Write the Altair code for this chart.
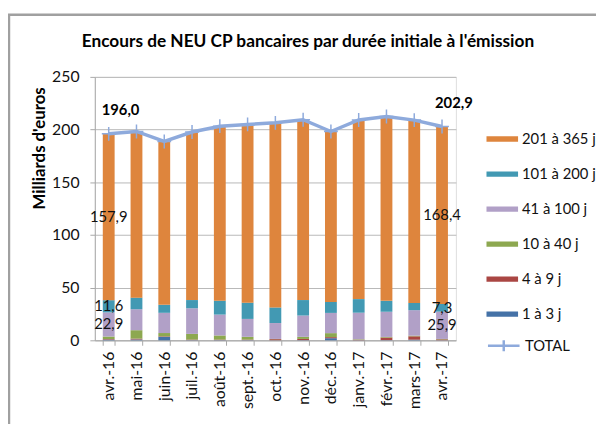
import altair as alt
import pandas as pd

months = ["avr.-16", "mai-16", "juin-16", "juil.-16", "août-16", "sept.-16", "oct.-16",
          "nov.-16", "déc.-16", "janv.-17", "févr.-17", "mars-17", "avr.-17"]

series_names = ["1 à 3 j", "4 à 9 j", "10 à 40 j", "41 à 100 j", "101 à 200 j", "201 à 365 j"]
series_colors = ["#4572a7", "#aa4643", "#8da850", "#b1a0c7", "#4299b3", "#de853d"]

v_1_3 = [0.7, 0.8, 3.3, 0.2, 0.2, 0.2, 0.1, 0.2, 2.0, 0.1, 0.2, 0.6, 0.1]
v_4_9 = [0.5, 0.8, 0.5, 0.5, 0.5, 0.5, 1.0, 1.1, 1.0, 0.4, 2.4, 3.2, 0.8]
v_10_40 = [2.4, 8.0, 3.1, 5.4, 3.9, 2.6, 0.2, 2.0, 3.8, 0.5, 0.6, 0.6, 0.4]
v_41_100 = [22.9, 19.9, 19.2, 24.3, 19.8, 17.0, 15.1, 20.2, 19.2, 25.2, 23.9, 24.2, 25.9]
v_101_200 = [11.6, 11.0, 7.6, 7.8, 13.2, 15.4, 14.8, 14.7, 10.4, 12.9, 10.4, 6.9, 7.3]
v_201_365 = [157.9, 157.7, 155.0, 159.5, 165.6, 169.2, 175.2, 171.1, 161.8, 170.0, 174.9, 173.5, 168.4]
total = [196.0, 198.2, 188.7, 197.7, 203.2, 204.9, 206.4, 209.3, 198.2, 209.1, 212.4, 209.0, 202.9]

series_values = [v_1_3, v_4_9, v_10_40, v_41_100, v_101_200, v_201_365]
labelled_series = ["41 à 100 j", "101 à 200 j", "201 à 365 j"]
labelled_months = ["avr.-16", "avr.-17"]

def fr(v):
    return f"{v:.1f}".replace(".", ",")

rows = []
for i, m in enumerate(months):
    base = 0.0
    for k, (name, vals) in enumerate(zip(series_names, series_values)):
        v = vals[i]
        rows.append(dict(month=m, series=name, value=v, order=k, mid=base + v / 2, label=fr(v)))
        base += v
df = pd.DataFrame(rows)
df_lab = df[df["series"].isin(labelled_series) & df["month"].isin(labelled_months)]

df_tot = pd.DataFrame({"month": months, "total": total, "series": ["TOTAL"] * len(months),
                       "label": [fr(t) for t in total]})
df_tot_lab = df_tot[df_tot["month"].isin(labelled_months)]

FONT = "Lato"
W, H = 366, 267

xenc = alt.X("month:N", sort=months,
             scale=alt.Scale(paddingInner=0.574, paddingOuter=0.287),
             axis=alt.Axis(title=None, labelAngle=-90, labelFontSize=16, labelFont=FONT,
                           labelColor="#111", tickBand="extent", tickSize=5, labelPadding=6,
                           domainColor="#a8a8a8", tickColor="#a8a8a8", grid=False))
yscale = alt.Scale(domain=[0, 250], nice=False)

bars = alt.Chart(df).mark_bar().encode(
    x=xenc,
    y=alt.Y("value:Q", stack="zero", scale=yscale,
            axis=alt.Axis(values=[0, 50, 100, 150, 200, 250], title="Milliards d'euros",
                          titleFont=FONT, titleFontSize=17, titleFontWeight="bold",
                          titleColor="#000", titleX=-47, titleY=72, titleAngle=-90,
                          labelFont=FONT, labelFontSize=16, labelColor="#111",
                          tickSize=5, labelPadding=11, gridColor="#b8b8b8",
                          domainColor="#a8a8a8", tickColor="#a8a8a8")),
    color=alt.Color("series:N",
                    scale=alt.Scale(domain=series_names[::-1], range=series_colors[::-1]),
                    legend=alt.Legend(title=None, orient="none", legendX=397, legendY=47,
                                      symbolType="M-1,-0.17H1V0.17H-1Z", symbolSize=1024,
                                      symbolStrokeWidth=0, labelFont=FONT, labelFontSize=15,
                                      labelColor="#111", rowPadding=11.5, padding=0,
                                      labelOffset=4)),
    order=alt.Order("order:Q"),
)

seg_text = alt.Chart(df_lab).mark_text(font=FONT, fontSize=15, color="#111",
                                        baseline="middle", align="center").encode(
    x=alt.X("month:N", sort=months),
    y=alt.Y("mid:Q", scale=yscale),
    text="label:N",
)

line = alt.Chart(df_tot).mark_line(strokeWidth=3.5).encode(
    x=alt.X("month:N", sort=months),
    y=alt.Y("total:Q", scale=yscale),
    stroke=alt.Stroke("series:N", scale=alt.Scale(domain=["TOTAL"], range=["#8eaadc"]),
                      legend=alt.Legend(title=None, orient="none", legendX=397, legendY=255,
                                        symbolType="M-1,0H1M0,-0.35V0.35", symbolSize=1024,
                                        symbolStrokeWidth=2.5, labelFont=FONT,
                                        labelFontSize=15, labelColor="#111", padding=0,
                                        labelOffset=4)),
)

markers = alt.Chart(df_tot).mark_point(shape="M-1,0H1M0,-1V1", size=196, filled=False,
                                       strokeWidth=1.5, color="#8eaadc", opacity=1).encode(
    x=alt.X("month:N", sort=months),
    y=alt.Y("total:Q", scale=yscale),
)

tot_text = alt.Chart(df_tot_lab).mark_text(font=FONT, fontSize=15, fontWeight="bold",
                                           color="#000", dy=-24, dx=12).encode(
    x=alt.X("month:N", sort=months),
    y=alt.Y("total:Q", scale=yscale),
    text="label:N",
)

frame = alt.Chart(pd.DataFrame({"a": [0]})).mark_rect(
    fill="transparent", stroke="#a0a0a0", strokeWidth=2.5).encode(
    x=alt.value(-87), x2=alt.value(W + 200), y=alt.value(-63), y2=alt.value(H + 200))

chart = alt.layer(frame, bars, seg_text, line, markers, tot_text).resolve_legend(
    color="independent", stroke="independent"
).properties(
    width=W, height=H,
    title=alt.TitleParams("Encours de NEU CP bancaires par durée initiale à l'émission",
                          font=FONT, fontSize=17.5, fontWeight="bold", color="#000",
                          anchor="middle", dx=33, offset=0, dy=37),
    autosize=alt.AutoSizeParams(type="none"),
    padding={"left": 88, "top": 67, "right": 142, "bottom": 82},
).configure_view(stroke="#b8b8b8").configure(background="white")

chart.save("out.html", embed_options={"renderer": "svg", "actions": False})
